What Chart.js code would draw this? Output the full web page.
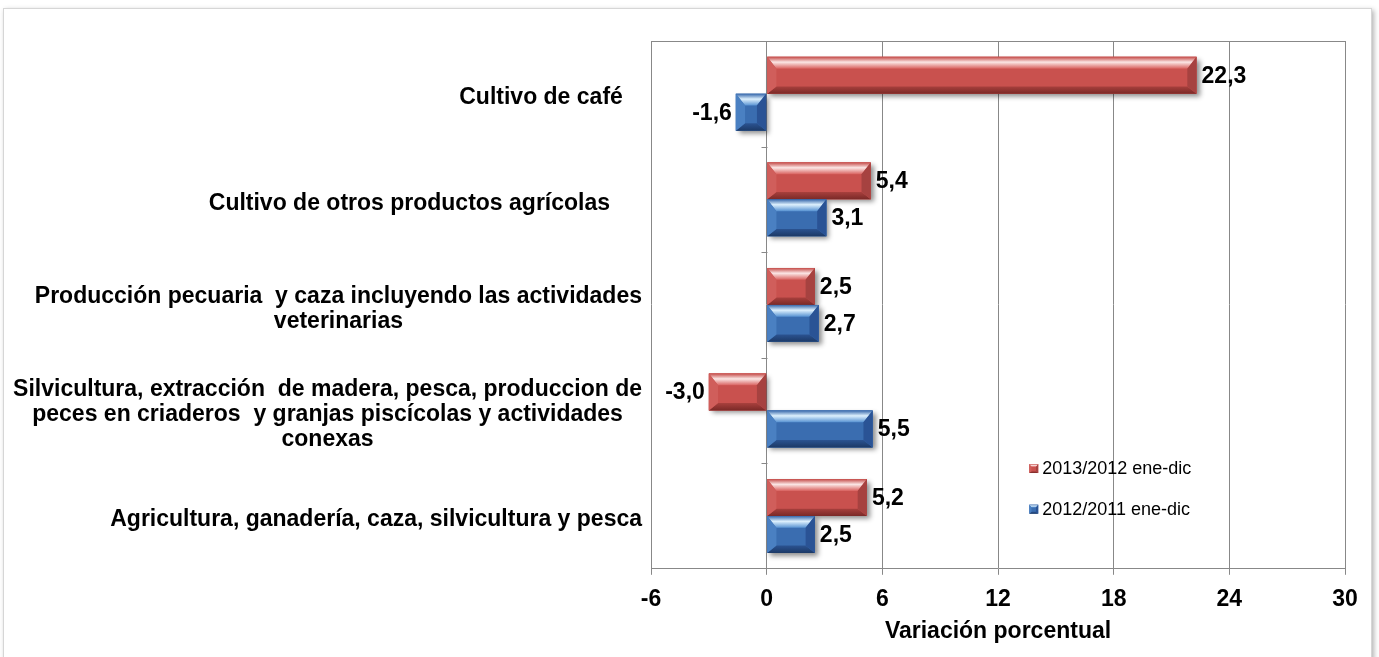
<!DOCTYPE html>
<html>
<head>
<meta charset="utf-8">
<script src="https://cdn.jsdelivr.net/npm/chart.js@4.4.0/dist/chart.umd.min.js"></script>
<style>
body{margin:0;background:#fff;overflow:hidden;}
#frame{position:absolute;left:3px;top:8px;width:1367px;height:660px;border:1px solid #d6d6d6;box-shadow:2px 2px 5px rgba(0,0,0,0.3);background:#fff;}
#wrap{position:absolute;left:0;top:0;width:1379px;height:657px;}
</style>
</head>
<body>
<div id="frame"></div>
<div id="wrap"><canvas id="graph"></canvas></div>
<script>
// categories, top to bottom (multi line labels as arrays)
var categories = [
    ['Cultivo de café   '],
    ['Cultivo de otros productos agrícolas     '],
    ['Producción pecuaria  y caza incluyendo las actividades', 'veterinarias'],
    ['Silvicultura, extracción  de madera, pesca, produccion de', 'peces en criaderos  y granjas piscícolas y actividades', 'conexas'],
    ['Agricultura, ganadería, caza, silvicultura y pesca']
];
var seriesNames = ['2013/2012 ene-dic', '2012/2011 ene-dic'];
var var2013 = [22.3, 5.4, 2.5, -3.0, 5.2];
var var2012 = [-1.6, 3.1, 2.7, 5.5, 2.5];
var xMin = -6, xMax = 30, xStep = 6;
var axisTitle = 'Variación porcentual';

// colors for the bevel look [main, topA, topHi, topB, botA, botB, left, right]
var redPal  = ['#C9514E', '#C44A47', '#FBE6E5', '#D9625F', '#A8403D', '#7A2927', '#D05E5B', '#A64240'];
var bluePal = ['#3A6DB0', '#3566AA', '#DDF0FD', '#5792D2', '#2B5391', '#1C3966', '#4A80C2', '#2A5395'];
var palettes = [redPal, bluePal];

var FAMILY = '"Liberation Sans", Arial, sans-serif';
var fontBold = function(sz){ return 'bold ' + sz + 'px ' + FAMILY; };

function fmt(v){ return v.toFixed(1).replace('.', ','); }

function bevelBar(ctx, L, R, T, B, pal){
    var h = B - T, w = R - L;
    var bw = Math.min(h * 0.25, w / 2);
    var bt = h * 0.32, bb = h * 0.2;
    ctx.fillStyle = pal[0];
    ctx.fillRect(L, T, w, h);
    // top bevel
    var g = ctx.createLinearGradient(0, T, 0, T + bt);
    g.addColorStop(0, pal[1]);
    g.addColorStop(0.45, pal[2]);
    g.addColorStop(1, pal[3]);
    ctx.fillStyle = g;
    ctx.beginPath();
    ctx.moveTo(L, T); ctx.lineTo(R, T); ctx.lineTo(R - bw, T + bt); ctx.lineTo(L + bw, T + bt);
    ctx.closePath(); ctx.fill();
    // bottom bevel
    g = ctx.createLinearGradient(0, B - bb, 0, B);
    g.addColorStop(0, pal[4]);
    g.addColorStop(1, pal[5]);
    ctx.fillStyle = g;
    ctx.beginPath();
    ctx.moveTo(L, B); ctx.lineTo(R, B); ctx.lineTo(R - bw, B - bb); ctx.lineTo(L + bw, B - bb);
    ctx.closePath(); ctx.fill();
    // left side
    ctx.fillStyle = pal[6];
    ctx.beginPath();
    ctx.moveTo(L, T); ctx.lineTo(L + bw, T + bt); ctx.lineTo(L + bw, B - bb); ctx.lineTo(L, B);
    ctx.closePath(); ctx.fill();
    // right side
    ctx.fillStyle = pal[7];
    ctx.beginPath();
    ctx.moveTo(R, T); ctx.lineTo(R - bw, T + bt); ctx.lineTo(R - bw, B - bb); ctx.lineTo(R, B);
    ctx.closePath(); ctx.fill();
}

var excelLook = {
    id: 'excelLook',
    beforeDatasetsDraw: function(chart){
        var ctx = chart.ctx;
        ctx.save();
        ctx.shadowColor = 'rgba(0,0,0,0.45)';
        ctx.shadowOffsetX = 3;
        ctx.shadowOffsetY = 3;
        ctx.shadowBlur = 5;
    },
    afterDatasetsDraw: function(chart){
        var ctx = chart.ctx;
        ctx.restore();

        // bevel overlay + value labels
        chart.data.datasets.forEach(function(ds, di){
            var meta = chart.getDatasetMeta(di);
            meta.data.forEach(function(bar, i){
                var p = bar.getProps(['x', 'y', 'base', 'height'], true);
                var L = Math.min(p.x, p.base), R = Math.max(p.x, p.base);
                var T = p.y - p.height / 2, B = p.y + p.height / 2;
                bevelBar(ctx, L, R, T, B, palettes[di]);
                var v = ds.data[i];
                ctx.save();
                ctx.font = fontBold(23);
                ctx.fillStyle = '#000';
                ctx.textBaseline = 'middle';
                if (v >= 0) { ctx.textAlign = 'left'; ctx.fillText(fmt(v), R + 5, p.y + 1); }
                else { ctx.textAlign = 'right'; ctx.fillText(fmt(v), L - 4, p.y + 1); }
                ctx.restore();
            });
        });
    },
    afterDraw: function(chart){
        var ctx = chart.ctx;
        var area = chart.chartArea;
        var xs = chart.scales.x, ys = chart.scales.y;
        ctx.save();
        // top border of plot area
        ctx.strokeStyle = '#888';
        ctx.lineWidth = 1;
        ctx.beginPath();
        ctx.moveTo(area.left, area.top + 0.5);
        ctx.lineTo(area.right, area.top + 0.5);
        ctx.stroke();
        // category ticks on the zero axis
        var x0 = Math.round(xs.getPixelForValue(0)) + 0.5;
        var half = (ys.getPixelForValue(1) - ys.getPixelForValue(0)) / 2;
        ctx.beginPath();
        for (var i = 0; i < categories.length; i++) {
            var yb = Math.round(ys.getPixelForValue(i) - half) + 0.5;
            ctx.moveTo(x0 - 6, yb);
            ctx.lineTo(x0, yb);
        }
        ctx.stroke();

        // category labels: block right aligned, lines centred
        ctx.font = fontBold(23);
        ctx.fillStyle = '#000';
        ctx.textAlign = 'center';
        ctx.textBaseline = 'middle';
        var lh = 25;
        var rightEdge = area.left - 9;
        categories.forEach(function(lines, i){
            var wmax = 0;
            lines.forEach(function(s){ wmax = Math.max(wmax, ctx.measureText(s).width); });
            var cx = rightEdge - wmax / 2;
            var cy = ys.getPixelForValue(i) + 4;
            var y1 = cy - (lines.length - 1) * lh / 2;
            lines.forEach(function(s, k){
                var trail = ctx.measureText(s).width - ctx.measureText(s.replace(/\s+$/, '')).width;
                ctx.fillText(s.replace(/\s+$/, ''), cx - trail / 2, y1 + k * lh);
            });
        });

        // legend inside the plot
        ctx.font = '18px ' + FAMILY;
        ctx.textAlign = 'left';
        var lx = area.left + (area.right - area.left) * 0.545;
        var ly = [area.top + (area.bottom - area.top) * 0.81, area.top + (area.bottom - area.top) * 0.887];
        seriesNames.forEach(function(name, di){
            bevelBar(ctx, lx, lx + 9, ly[di] - 4.5, ly[di] + 4.5, palettes[di]);
            ctx.fillStyle = '#000';
            ctx.fillText(name, lx + 13, ly[di] + 1);
        });
        ctx.restore();
    }
};

new Chart(document.getElementById('graph'), {
    type: 'bar',
    data: {
        labels: categories,
        datasets: [
            { label: seriesNames[0], data: var2013, backgroundColor: redPal[0], borderWidth: 0 },
            { label: seriesNames[1], data: var2012, backgroundColor: bluePal[0], borderWidth: 0 }
        ]
    },
    options: {
        indexAxis: 'y',
        responsive: true,
        maintainAspectRatio: false,
        animation: false,
        layout: { padding: { left: 10, top: 41, right: 34, bottom: 0 } },
        datasets: { bar: { categoryPercentage: 0.7, barPercentage: 1.0 } },
        plugins: { legend: { display: false }, tooltip: { enabled: false } },
        scales: {
            x: {
                min: xMin, max: xMax,
                ticks: { stepSize: xStep, color: '#000', font: { family: FAMILY, size: 23, weight: 'bold' }, padding: 11 },
                grid: { color: '#888', tickLength: 6, drawTicks: true },
                border: { color: '#888' },
                title: { display: true, text: axisTitle, color: '#000', font: { family: FAMILY, size: 23, weight: 'bold' }, padding: { top: -7, bottom: 12 } }
            },
            y: {
                grid: { display: false },
                border: { display: false },
                ticks: { display: false },
                afterFit: function(scale){ scale.width = 641; }
            }
        }
    },
    plugins: [excelLook]
});
</script>
</body>
</html>
